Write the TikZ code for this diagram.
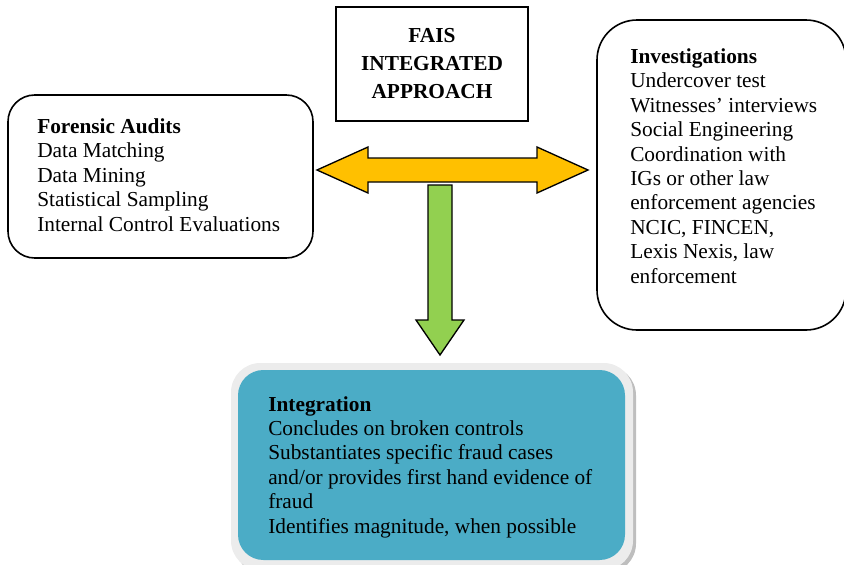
\documentclass[tikz,border=0pt]{standalone}
\usepackage{fontspec}
\setmainfont{Liberation Serif}
\usetikzlibrary{positioning,calc}
\definecolor{fyellow}{RGB}{255,192,0}
\definecolor{fgreen}{RGB}{146,208,80}
\definecolor{fteal}{RGB}{75,172,198}
\definecolor{fglow}{RGB}{236,236,236}
\definecolor{fshade}{RGB}{190,190,190}
\tikzset{
  box/.style={draw=black,line width=1.2pt,inner sep=0pt},
  % anchored at the baseline of the last line
  txt/.style={anchor=base west,align=left,inner sep=0pt,
              font=\fontsize{16}{18.3}\selectfont},
  blockarrow/.style={draw=black,line width=1pt,line join=miter},
}

\begin{document}
\begin{tikzpicture}[x=0.75pt,y=-0.75pt]
  \useasboundingbox (0,0) rectangle (844,565);
  % title
  \node[box,minimum width=144pt,minimum height=85.5pt,align=center,
        font=\fontsize{16}{21}\selectfont\bfseries] (title) at (432,64)
       {FAIS\\INTEGRATED\\APPROACH};
  % side boxes
  \node[box,rounded corners=20pt,minimum width=228.75pt,minimum height=122.25pt]
       (audits) at (160.5,176.5) {};
  \node[box,rounded corners=30pt,minimum width=186.75pt,minimum height=232.5pt]
       (invest) at (721.5,175) {};
  % integration box with its glow
  \node[fill=fshade,rounded corners=22pt,minimum width=301.5pt,minimum height=155.25pt]
       (integShadow) at (435,469.5) {};
  \node[fill=fglow,rounded corners=22pt,minimum width=301.5pt,minimum height=155.25pt]
       (integGlow) at (432,466.5) {};
  \node[fill=fteal,rounded corners=19pt,minimum width=290.25pt,minimum height=142.5pt]
       (integ) at (431.5,465) {};
  % texts
  \node[txt] (auditsText) at (37,231)
       {\textbf{Forensic Audits}\\Data Matching\\Data Mining\\
        Statistical Sampling\\Internal Control Evaluations};
  \node[txt] (investText) at (630,283)
       {\textbf{Investigations}\\Undercover test\\Witnesses’ interviews\\
        Social Engineering\\Coordination with\\IGs or other law\\
        enforcement agencies\\NCIC, FINCEN,\\Lexis Nexis, law\\enforcement};
  \node[txt] (integText) at (268,533)
       {\textbf{Integration}\\Concludes on broken controls\\
        Substantiates specific fraud cases\\
        and/or provides first hand evidence of\\fraud\\
        Identifies magnitude, when possible};
  % arrows
  \coordinate (hl) at (317,170);
  \coordinate (hr) at (588,170);
  \draw[blockarrow,fill=fyellow] (hl) -- ++(51,-23) -- ++(0,11)
       -- ($(hr)+(-51,-12)$) -- ++(0,-11) -- (hr) -- ++(-51,23) -- ++(0,-11)
       -- ($(hl)+(51,12)$) -- ++(0,11) -- cycle;
  \coordinate (gt) at (440,185);
  \coordinate (gtip) at (440,355);
  \draw[blockarrow,fill=fgreen] ($(gt)+(-12,0)$) -- ($(gt)+(12,0)$)
       -- ($(gtip)+(12,-35)$) -- ($(gtip)+(24,-35)$) -- (gtip)
       -- ($(gtip)+(-24,-35)$) -- ($(gtip)+(-12,-35)$) -- cycle;
\end{tikzpicture}
\end{document}
